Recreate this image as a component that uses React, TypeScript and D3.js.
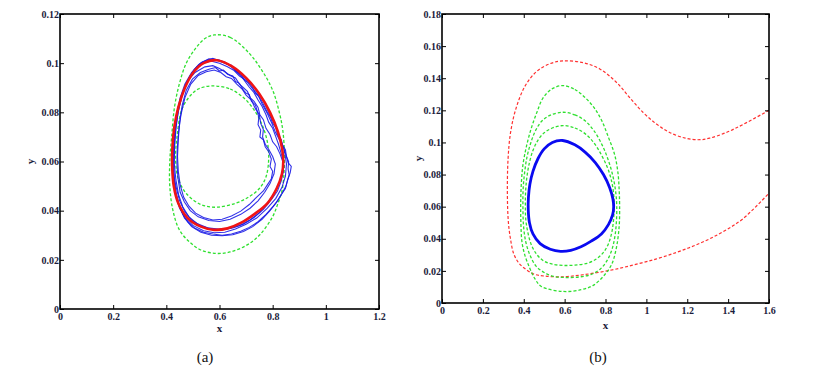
import React, { useRef, useEffect } from 'react';
import * as d3 from 'd3';

type Pt = [number, number];

// panel (a) ticks
const xTicksA = [0, 0.2, 0.4, 0.6, 0.8, 1, 1.2];
const yTicksA = [0, 0.02, 0.04, 0.06, 0.08, 0.1, 0.12];
// panel (b) ticks
const xTicksB = [0, 0.2, 0.4, 0.6, 0.8, 1, 1.2, 1.4, 1.6];
const yTicksB = [0, 0.02, 0.04, 0.06, 0.08, 0.1, 0.12, 0.14, 0.16, 0.18];

// limit cycle (red in a, blue in b)
const limitCycle: Pt[] = [
  [0.59, 0.1012], [0.65, 0.0985], [0.70, 0.094], [0.75, 0.0875], [0.79, 0.080],
  [0.82, 0.072], [0.836, 0.065], [0.84, 0.060], [0.835, 0.055], [0.815, 0.049],
  [0.78, 0.043], [0.73, 0.0385], [0.68, 0.035], [0.63, 0.0328], [0.58, 0.0322],
  [0.53, 0.0335], [0.48, 0.037], [0.445, 0.043], [0.428, 0.050], [0.422, 0.058],
  [0.423, 0.066], [0.43, 0.074], [0.445, 0.082], [0.47, 0.090], [0.50, 0.096],
  [0.54, 0.100],
];

// panel (a) green dashed bands
const greenOuterA: Pt[] = [
  [0.581, 0.1115], [0.64, 0.1105], [0.712, 0.104], [0.76, 0.097], [0.80, 0.089],
  [0.825, 0.080], [0.838, 0.0728], [0.844, 0.064], [0.843, 0.056], [0.835, 0.048],
  [0.82, 0.043], [0.80, 0.0376], [0.75, 0.030], [0.70, 0.0258], [0.64, 0.0232],
  [0.587, 0.0226], [0.53, 0.024], [0.49, 0.027], [0.45, 0.032], [0.425, 0.040],
  [0.413, 0.050], [0.413, 0.060], [0.42, 0.070], [0.431, 0.0823], [0.45, 0.092],
  [0.475, 0.100], [0.51, 0.106], [0.545, 0.110],
];
const greenInnerA: Pt[] = [
  [0.5875, 0.0907], [0.64, 0.0895], [0.69, 0.086], [0.73, 0.081], [0.76, 0.075],
  [0.78, 0.068], [0.785, 0.061], [0.775, 0.0538], [0.75, 0.049], [0.712, 0.0457],
  [0.66, 0.043], [0.5875, 0.0414], [0.53, 0.0425], [0.475, 0.047], [0.445, 0.053],
  [0.435, 0.060], [0.44, 0.070], [0.4625, 0.0823], [0.5125, 0.089], [0.55, 0.0905],
];

// panel (a) simulated stochastic paths
const pathA1: Pt[] = [
  [0.56, 0.1015], [0.6, 0.1012], [0.64, 0.0990], [0.67, 0.0965], [0.70, 0.0935], [0.72, 0.0918],
  [0.74, 0.0885], [0.765, 0.0848], [0.785, 0.0800], [0.81, 0.0745], [0.83, 0.0690], [0.845, 0.0640],
  [0.852, 0.0590], [0.848, 0.0540], [0.835, 0.0495], [0.812, 0.0450], [0.78, 0.0410], [0.74, 0.0370],
  [0.70, 0.0345], [0.66, 0.0325], [0.62, 0.0312], [0.58, 0.0310], [0.54, 0.0318], [0.50, 0.0340],
  [0.47, 0.0372], [0.45, 0.0410], [0.435, 0.0460], [0.428, 0.0520], [0.424, 0.0580], [0.425, 0.0650],
  [0.430, 0.0720], [0.440, 0.0790], [0.455, 0.0860], [0.478, 0.0925], [0.505, 0.0975], [0.535, 0.1005],
];
const pathA2: Pt[] = [
  [0.55, 0.0965], [0.58, 0.0972], [0.605, 0.0962], [0.625, 0.0945], [0.645, 0.0938], [0.665, 0.0915],
  [0.685, 0.0895], [0.70, 0.0870], [0.72, 0.0850], [0.735, 0.0815], [0.75, 0.0790], [0.755, 0.0755],
  [0.765, 0.0730], [0.762, 0.0700], [0.772, 0.0670], [0.785, 0.0650], [0.800, 0.0620], [0.810, 0.0590],
  [0.805, 0.0550], [0.790, 0.0510], [0.770, 0.0475], [0.745, 0.0440], [0.715, 0.0410], [0.680, 0.0385],
  [0.640, 0.0365], [0.600, 0.0356], [0.560, 0.0360], [0.520, 0.0375], [0.490, 0.0400], [0.468, 0.0435],
  [0.452, 0.0475], [0.444, 0.0530], [0.440, 0.0590], [0.441, 0.0650], [0.446, 0.0720], [0.455, 0.0790],
  [0.470, 0.0860], [0.492, 0.0915], [0.520, 0.0950],
];
const pathA3: Pt[] = [
  [0.57, 0.1008], [0.60, 0.1000], [0.63, 0.0985], [0.655, 0.0970], [0.675, 0.0948], [0.70, 0.0930],
  [0.725, 0.0895], [0.745, 0.0870], [0.76, 0.0835], [0.78, 0.0795], [0.795, 0.0760], [0.81, 0.0720],
  [0.825, 0.0690], [0.840, 0.0660], [0.852, 0.0620], [0.858, 0.0595], [0.870, 0.0580], [0.866, 0.0555],
  [0.858, 0.0530], [0.850, 0.0500], [0.835, 0.0470], [0.815, 0.0435], [0.790, 0.0400], [0.760, 0.0365],
  [0.725, 0.0335], [0.690, 0.0315], [0.650, 0.0302], [0.610, 0.0298], [0.570, 0.0300], [0.530, 0.0312],
  [0.495, 0.0335], [0.468, 0.0370], [0.450, 0.0415], [0.437, 0.0470], [0.430, 0.0530], [0.428, 0.0600],
  [0.430, 0.0670], [0.436, 0.0745], [0.448, 0.0820], [0.465, 0.0890], [0.488, 0.0945], [0.515, 0.0985],
  [0.545, 0.1003],
];
const pathA4: Pt[] = [
  [0.545, 0.0985], [0.575, 0.0990], [0.60, 0.0978], [0.62, 0.0965], [0.64, 0.0950], [0.66, 0.0940],
  [0.675, 0.0915], [0.69, 0.0900], [0.705, 0.0885], [0.715, 0.0860], [0.73, 0.0845], [0.745, 0.0820],
  [0.752, 0.0790], [0.765, 0.0770], [0.775, 0.0735], [0.790, 0.0710], [0.800, 0.0680], [0.815, 0.0660],
  [0.828, 0.0630], [0.838, 0.0600], [0.840, 0.0560], [0.832, 0.0520], [0.818, 0.0480], [0.795, 0.0445],
  [0.765, 0.0405], [0.730, 0.0372], [0.690, 0.0345], [0.650, 0.0330], [0.610, 0.0322], [0.570, 0.0325],
  [0.530, 0.0338], [0.495, 0.0362], [0.470, 0.0395], [0.450, 0.0440], [0.436, 0.0500], [0.425, 0.0560],
  [0.420, 0.0620], [0.425, 0.0680], [0.432, 0.0745], [0.442, 0.0810], [0.457, 0.0870], [0.478, 0.0925],
  [0.508, 0.0962],
];
const pathA5: Pt[] = [
  [0.56, 0.1018], [0.59, 0.1015], [0.62, 0.1005], [0.645, 0.0985], [0.67, 0.0960], [0.69, 0.0935],
  [0.71, 0.0905], [0.73, 0.0880], [0.745, 0.0850], [0.76, 0.0825], [0.775, 0.0790], [0.785, 0.0760],
  [0.80, 0.0735], [0.812, 0.0700], [0.822, 0.0670], [0.830, 0.0640], [0.838, 0.0610], [0.842, 0.0580],
  [0.836, 0.0545], [0.824, 0.0510], [0.805, 0.0470], [0.780, 0.0430], [0.750, 0.0392], [0.715, 0.0362],
  [0.675, 0.0340], [0.635, 0.0328], [0.595, 0.0325], [0.555, 0.0330], [0.515, 0.0348], [0.485, 0.0375],
  [0.462, 0.0415], [0.446, 0.0465], [0.436, 0.0525], [0.430, 0.0590], [0.431, 0.0660], [0.436, 0.0730],
  [0.444, 0.0800], [0.458, 0.0865], [0.476, 0.0920], [0.500, 0.0965], [0.528, 0.1000],
];
const pathA6: Pt[] = [
  [0.56, 0.0975], [0.585, 0.0982], [0.60, 0.0968], [0.615, 0.0972], [0.63, 0.0955], [0.65, 0.0948],
  [0.66, 0.0925], [0.675, 0.0918], [0.69, 0.0890], [0.70, 0.0878], [0.712, 0.0872], [0.72, 0.0845],
  [0.735, 0.0830], [0.742, 0.0805], [0.748, 0.0780], [0.745, 0.0750], [0.755, 0.0728], [0.752, 0.0700],
  [0.765, 0.0688], [0.772, 0.0660], [0.785, 0.0640], [0.795, 0.0610], [0.790, 0.0580], [0.800, 0.0560],
  [0.795, 0.0530], [0.780, 0.0505], [0.765, 0.0480], [0.740, 0.0455], [0.712, 0.0425], [0.680, 0.0398],
  [0.645, 0.0378], [0.610, 0.0365], [0.575, 0.0362], [0.540, 0.0372], [0.510, 0.0390], [0.485, 0.0418],
  [0.465, 0.0455], [0.452, 0.0505], [0.445, 0.0560], [0.442, 0.0620], [0.445, 0.0690], [0.450, 0.0760],
  [0.460, 0.0830], [0.475, 0.0890], [0.498, 0.0935], [0.528, 0.0962],
];
const pathA7: Pt[] = [
  [0.55, 0.1010], [0.575, 0.1020], [0.60, 0.1008], [0.625, 0.0998], [0.645, 0.0992], [0.66, 0.0968],
  [0.68, 0.0955], [0.695, 0.0930], [0.712, 0.0920], [0.725, 0.0900], [0.735, 0.0878], [0.750, 0.0862],
  [0.762, 0.0840], [0.772, 0.0818], [0.780, 0.0800], [0.792, 0.0780], [0.800, 0.0755], [0.812, 0.0738],
  [0.818, 0.0710], [0.832, 0.0690], [0.838, 0.0665], [0.848, 0.0648], [0.852, 0.0620], [0.860, 0.0600],
  [0.858, 0.0570], [0.862, 0.0545], [0.855, 0.0520], [0.848, 0.0490], [0.832, 0.0465], [0.818, 0.0440],
  [0.800, 0.0415], [0.775, 0.0385], [0.745, 0.0355], [0.712, 0.0332], [0.680, 0.0316], [0.645, 0.0305],
  [0.610, 0.0300], [0.575, 0.0305], [0.540, 0.0312], [0.508, 0.0328], [0.482, 0.0352], [0.462, 0.0385],
  [0.447, 0.0425], [0.435, 0.0475], [0.428, 0.0530], [0.426, 0.0590], [0.427, 0.0655], [0.432, 0.0725],
  [0.440, 0.0795], [0.452, 0.0860], [0.470, 0.0915], [0.495, 0.0962], [0.522, 0.0995],
];

// panel (b) green dashed level curves
const greenB1: Pt[] = [
  [0.592, 0.1105], [0.65, 0.109], [0.70, 0.1055], [0.745, 0.0995], [0.785, 0.091], [0.815, 0.0825],
  [0.833, 0.074], [0.841, 0.066], [0.842, 0.058], [0.838, 0.050], [0.83, 0.0435], [0.814, 0.0368],
  [0.79, 0.0315], [0.755, 0.0274], [0.71, 0.0247], [0.65, 0.0236], [0.592, 0.0234], [0.54, 0.0242],
  [0.50, 0.026], [0.465, 0.030], [0.438, 0.036], [0.42, 0.044], [0.41, 0.052], [0.408, 0.060],
  [0.409, 0.069], [0.415, 0.078], [0.427, 0.087], [0.445, 0.095], [0.47, 0.1015], [0.50, 0.106],
  [0.54, 0.109],
];
const greenB2: Pt[] = [
  [0.592, 0.1188], [0.65, 0.1172], [0.70, 0.1135], [0.745, 0.107], [0.785, 0.098], [0.815, 0.0885],
  [0.838, 0.078], [0.851, 0.068], [0.855, 0.060], [0.853, 0.050], [0.846, 0.0415], [0.832, 0.0335],
  [0.808, 0.0265], [0.775, 0.0212], [0.73, 0.0178], [0.67, 0.0162], [0.60, 0.0159], [0.545, 0.0166],
  [0.50, 0.019], [0.46, 0.023], [0.43, 0.030], [0.41, 0.038], [0.399, 0.048], [0.396, 0.060],
  [0.397, 0.071], [0.404, 0.081], [0.416, 0.091], [0.435, 0.100], [0.46, 0.108], [0.49, 0.1135],
  [0.53, 0.117],
];
const greenB3: Pt[] = [
  [0.592, 0.1354], [0.65, 0.133], [0.70, 0.128], [0.745, 0.1215], [0.78, 0.114], [0.815, 0.103],
  [0.845, 0.0923], [0.861, 0.081], [0.867, 0.070], [0.869, 0.061], [0.867, 0.048], [0.853, 0.0342],
  [0.83, 0.024], [0.796, 0.0176], [0.74, 0.011], [0.682, 0.0083], [0.592, 0.0072], [0.486, 0.0103],
  [0.455, 0.015], [0.429, 0.0218], [0.405, 0.030], [0.391, 0.0383], [0.386, 0.050], [0.385, 0.0612],
  [0.388, 0.074], [0.396, 0.086], [0.414, 0.098], [0.437, 0.1089], [0.465, 0.119], [0.494, 0.1276],
  [0.54, 0.1335],
];

// panel (b) red dashed separatrix (open)
const redB: Pt[] = [
  [1.6, 0.120], [1.473, 0.1112], [1.391, 0.1062], [1.31, 0.1027], [1.261, 0.1017], [1.19, 0.1027],
  [1.114, 0.1062], [1.049, 0.1115], [0.983, 0.1188], [0.918, 0.128], [0.853, 0.1375], [0.772, 0.1458],
  [0.69, 0.1497], [0.592, 0.1508], [0.527, 0.149], [0.462, 0.1441], [0.405, 0.1348], [0.36, 0.1203],
  [0.335, 0.1058], [0.323, 0.0892], [0.32, 0.0663], [0.325, 0.050], [0.335, 0.040], [0.35, 0.031],
  [0.375, 0.025], [0.405, 0.0215], [0.45, 0.018], [0.50, 0.0168], [0.59, 0.0163], [0.69, 0.0176],
  [0.82, 0.0203], [0.934, 0.0236], [1.05, 0.0275], [1.147, 0.0315], [1.23, 0.0355], [1.31, 0.0400],
  [1.39, 0.0455], [1.473, 0.0525], [1.6, 0.0684],
];

const W = 820;
const H = 370;
const FONT = 'Liberation Serif, DejaVu Serif, serif';
const TXT = '#1c1c3c';
const GREEN = '#2fe02f';

function drawFrame(g: any, x: any, y: any, xTicks: number[], yTicks: number[]) {
  const [x0, x1] = x.range();
  const [y0, y1] = y.range();
  const style = (sel: any) => {
    sel.attr('font-family', FONT).attr('font-size', 10).attr('font-weight', 'bold');
    sel.select('.domain').remove();
    sel.selectAll('line').attr('stroke', '#000').attr('stroke-width', 1);
    sel.selectAll('text').attr('fill', TXT);
  };
  g.append('g').attr('transform', `translate(0,${y0})`)
    .call(d3.axisBottom(x).tickValues(xTicks).tickSize(-4).tickPadding(4).tickFormat((d: any) => String(d)))
    .call(style);
  g.append('g').attr('transform', `translate(0,${y1})`)
    .call(d3.axisTop(x).tickValues(xTicks).tickSize(-4).tickFormat(() => ''))
    .call(style);
  g.append('g').attr('transform', `translate(${x0},0)`)
    .call(d3.axisLeft(y).tickValues(yTicks).tickSize(-4).tickPadding(1).tickFormat((d: any) => String(d)))
    .call(style);
  g.append('g').attr('transform', `translate(${x1},0)`)
    .call(d3.axisRight(y).tickValues(yTicks).tickSize(-4).tickFormat(() => ''))
    .call(style);
  g.append('rect')
    .attr('x', x0).attr('y', y1).attr('width', x1 - x0).attr('height', y0 - y1)
    .attr('fill', 'none').attr('stroke', '#000').attr('stroke-width', 1.6);
}

function axisTitles(g: any, x: any, y: any, xLabelY: number, yLabelX: number) {
  const [x0, x1] = x.range();
  const [y0, y1] = y.range();
  g.append('text')
    .attr('x', (x0 + x1) / 2).attr('y', xLabelY)
    .attr('text-anchor', 'middle')
    .attr('fill', TXT)
    .attr('font-family', FONT).attr('font-weight', 'bold').attr('font-size', 11)
    .text('x');
  g.append('text')
    .attr('transform', `translate(${yLabelX},${(y0 + y1) / 2}) rotate(-90)`)
    .attr('text-anchor', 'middle')
    .attr('fill', TXT)
    .attr('font-family', FONT).attr('font-weight', 'bold').attr('font-size', 11)
    .text('y');
}

export default function App() {
  const svgRef = useRef<SVGSVGElement>(null);

  useEffect(() => {
    const svg = d3.select(svgRef.current);
    svg.selectAll('*').remove();

    // ---------- panel (a)
    const xa = d3.scaleLinear().domain([0, 1.2]).range([60, 379]);
    const ya = d3.scaleLinear().domain([0, 0.12]).range([309, 14]);
    const ga = svg.append('g');
    svg.append('clipPath').attr('id', 'clipA').append('rect')
      .attr('x', 60).attr('y', 14).attr('width', 319).attr('height', 295);
    const la = ga.append('g').attr('clip-path', 'url(#clipA)');

    const smoothA = d3.line<Pt>().x(d => xa(d[0])).y(d => ya(d[1])).curve(d3.curveCatmullRomClosed);
    const roughA = d3.line<Pt>().x(d => xa(d[0])).y(d => ya(d[1])).curve(d3.curveLinearClosed);

    [greenOuterA, greenInnerA].forEach(c => {
      la.append('path').attr('d', smoothA(c)).attr('fill', 'none')
        .attr('stroke', GREEN).attr('stroke-width', 1.3).attr('stroke-dasharray', '3 2');
    });
    [pathA1, pathA2, pathA3, pathA4, pathA5, pathA6, pathA7].forEach(c => {
      la.append('path').attr('d', roughA(c)).attr('fill', 'none')
        .attr('stroke', '#1a1ae6').attr('stroke-width', 1.1).attr('stroke-opacity', 0.9);
    });
    la.append('path').attr('d', smoothA(limitCycle)).attr('fill', 'none')
      .attr('stroke', '#f01414').attr('stroke-width', 2.6);

    drawFrame(ga, xa, ya, xTicksA, yTicksA);
    axisTitles(ga, xa, ya, 332, 34);

    // ---------- panel (b)
    const xb = d3.scaleLinear().domain([0, 1.6]).range([442, 769]);
    const yb = d3.scaleLinear().domain([0, 0.18]).range([303, 14]);
    const gb = svg.append('g');
    svg.append('clipPath').attr('id', 'clipB').append('rect')
      .attr('x', 442).attr('y', 14).attr('width', 327).attr('height', 289);
    const lb = gb.append('g').attr('clip-path', 'url(#clipB)');

    const smoothB = d3.line<Pt>().x(d => xb(d[0])).y(d => yb(d[1])).curve(d3.curveCatmullRomClosed);
    const openB = d3.line<Pt>().x(d => xb(d[0])).y(d => yb(d[1])).curve(d3.curveCatmullRom);

    lb.append('path').attr('d', openB(redB)).attr('fill', 'none')
      .attr('stroke', '#ff3030').attr('stroke-width', 1.2).attr('stroke-dasharray', '3 2');
    [greenB1, greenB2, greenB3].forEach(c => {
      lb.append('path').attr('d', smoothB(c)).attr('fill', 'none')
        .attr('stroke', GREEN).attr('stroke-width', 1.3).attr('stroke-dasharray', '3 2');
    });
    lb.append('path').attr('d', smoothB(limitCycle)).attr('fill', 'none')
      .attr('stroke', '#0a0af0').attr('stroke-width', 2.8);

    drawFrame(gb, xb, yb, xTicksB, yTicksB);
    axisTitles(gb, xb, yb, 329, 422);

    // captions
    [['(a)', 205], ['(b)', 598]].forEach(([t, cx]) => {
      svg.append('text')
        .attr('x', cx as number).attr('y', 362)
        .attr('text-anchor', 'middle')
        .attr('fill', '#111')
        .attr('font-family', FONT).attr('font-size', 15)
        .text(t as string);
    });
  }, []);

  return (
    <svg
      ref={svgRef}
      width={W}
      height={H}
      style={{ position: 'absolute', left: 0, top: 0, background: '#fff' }}
    />
  );
}
